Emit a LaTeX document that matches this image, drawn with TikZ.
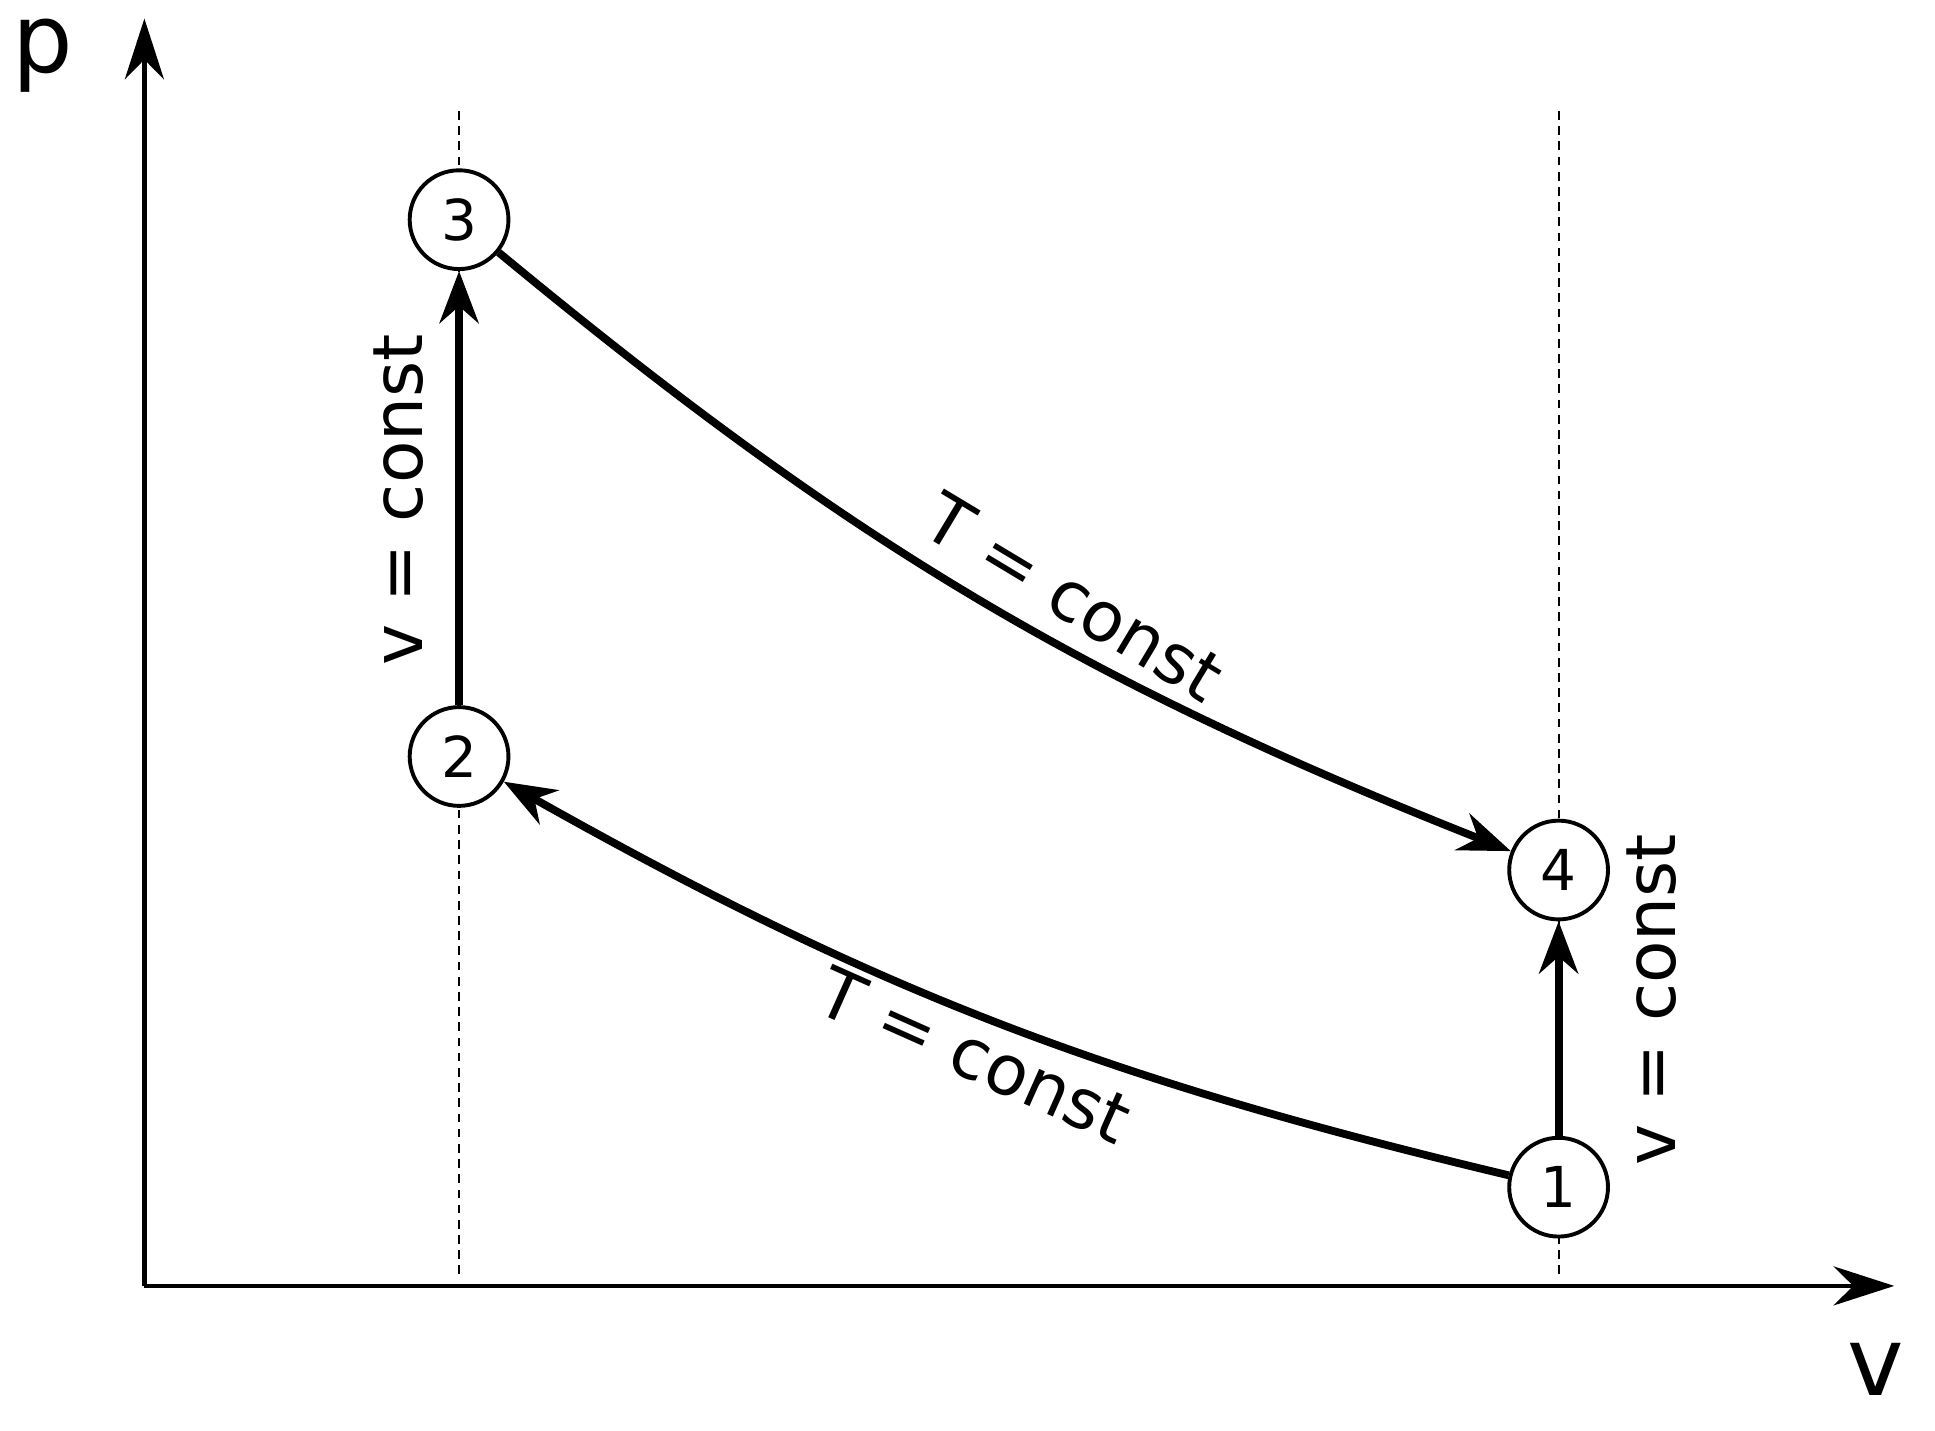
\documentclass[tikz,border=0pt]{standalone}
\usepackage{fontspec}
\setmainfont{DejaVu Sans}
\usetikzlibrary{arrows.meta}
\begin{document}
\begin{tikzpicture}[x=0.01cm,y=-0.01cm,
  st/.style={circle,draw,line width=0.9pt,fill=white,minimum size=0.8cm,inner sep=0pt,font=\fontsize{13}{13}\selectfont},
  pro/.style={line width=1.8pt,-{Stealth[length=12pt,width=9pt]}},
  lab/.style={font=\fontsize{16}{16}\selectfont},
  guide/.style={line width=0.5pt,dash pattern=on 2pt off 1.5pt}]
\useasboundingbox (0,0) rectangle (1568,1159);
\coordinate (o) at (117,1042);
\coordinate (ytop) at (117,15);
\coordinate (xend) at (1535,1042);
\draw[line width=1.1pt,-{Stealth[length=14pt,width=9pt]}] (o) -- (ytop);
\draw[line width=1.1pt,-{Stealth[length=14pt,width=9pt]}] (o) -- (xend);
\node[font=\fontsize{22}{22}\selectfont] (p) at (35,45) {p};
\node[font=\fontsize{22}{22}\selectfont] (v) at (1520,1110) {v};
\coordinate (d1a) at (372,90); \coordinate (d1b) at (372,1035);
\coordinate (d2a) at (1263,90); \coordinate (d2b) at (1263,1035);
\draw[guide] (d1a) -- (d1b);
\draw[guide] (d2a) -- (d2b);
\node[st] (n3) at (372,178) {3};
\node[st] (n2) at (372,613) {2};
\node[st] (n4) at (1263,705) {4};
\node[st] (n1) at (1263,962) {1};
\draw[pro] (n2) -- (n3);
\draw[pro] (n1) -- (n4);
\draw[pro] (n3) to[bend right=9] (n4);
\draw[pro] (n1) to[bend left=8] (n2);
\node[lab,rotate=90] (l1) at (323,405) {v = const};
\node[lab,rotate=90] (l2) at (1338,810) {v = const};
\node[lab,rotate=-31] (l3) at (870,484) {T = const};
\node[lab,rotate=-24] (l4) at (790,855) {T = const};
\end{tikzpicture}
\end{document}
